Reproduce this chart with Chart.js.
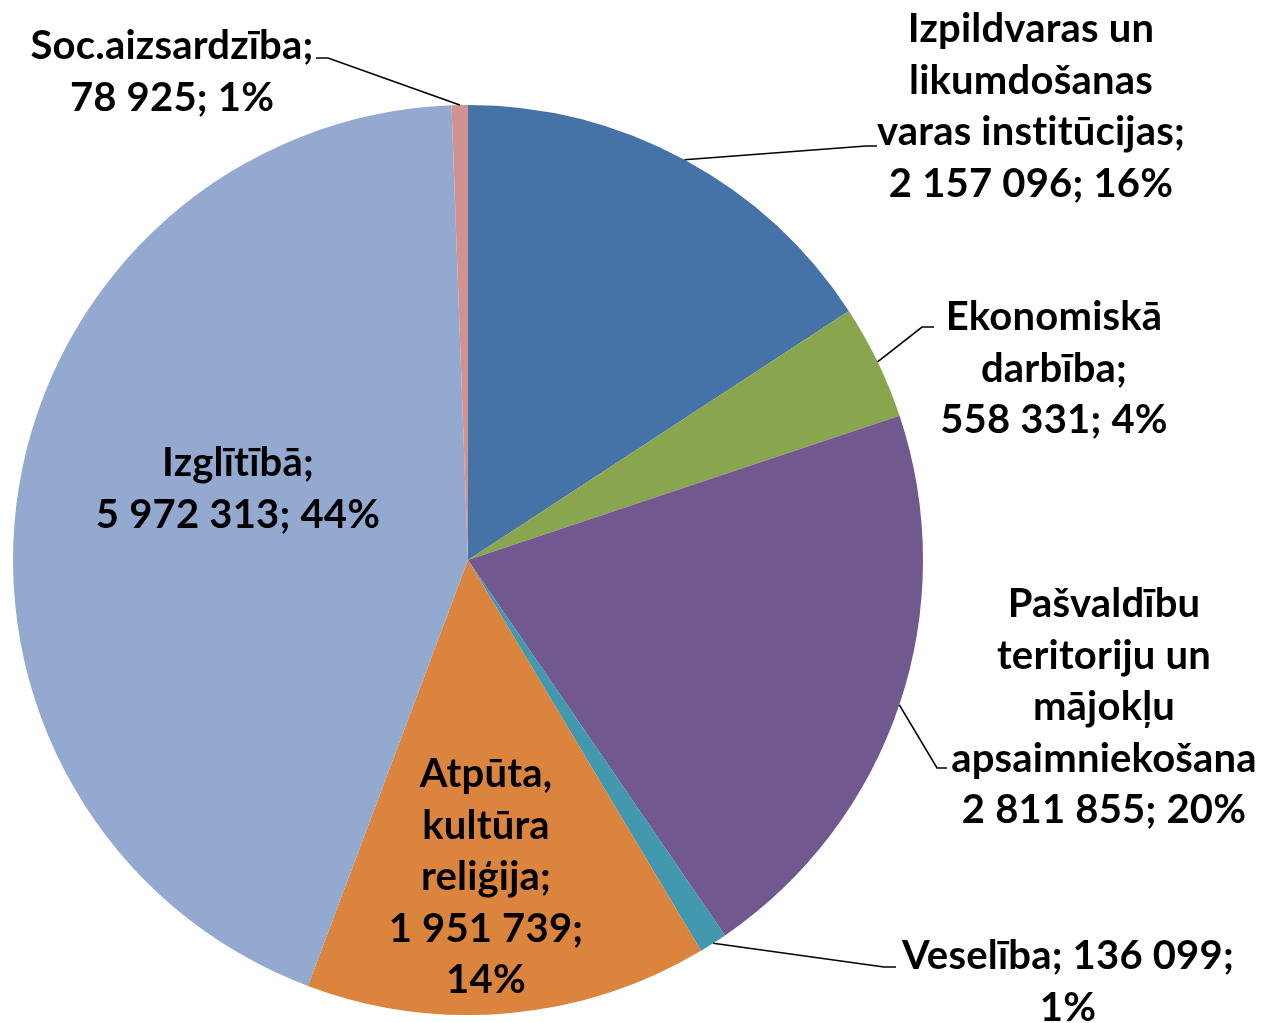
<!DOCTYPE html>
<html>
<head>
<meta charset="utf-8">
<script src="https://cdn.jsdelivr.net/npm/chart.js@4"></script>
<style>
html,body{margin:0;padding:0;background:#fff;}
#c{display:block;}
</style>
</head>
<body>
<canvas id="c" width="1261" height="1023"></canvas>
<script>
// ---- data ----
const categories = [
  'Izpildvaras un likumdošanas varas institūcijas',
  'Ekonomiskā darbība',
  'Pašvaldību teritoriju un mājokļu apsaimniekošana',
  'Veselība',
  'Atpūta, kultūra reliģija',
  'Izglītībā',
  'Soc.aizsardzība'
];
const values = [2157096, 558331, 2811855, 136099, 1951739, 5972313, 78925];
const percents = [16, 4, 20, 1, 14, 44, 1];
const colors = ['#4572A7', '#89A54E', '#71588F', '#4198AF', '#DB843D', '#93A9CF', '#D19392'];
// label text lines; {v} = value, {p} = percent
const labelTemplates = [
  ['Izpildvaras un', 'likumdošanas', 'varas institūcijas;', '{v}; {p}'],
  ['Ekonomiskā', 'darbība;', '{v}; {p}'],
  ['Pašvaldību', 'teritoriju un', 'mājokļu', 'apsaimniekošana', '{v}; {p}'],
  ['Veselība; {v};', '{p}'],
  ['Atpūta,', 'kultūra', 'reliģija;', '{v};', '{p}'],
  ['Izglītībā;', '{v}; {p}'],
  ['Soc.aizsardzība;', '{v}; {p}']
];

// ---- label layout (text placement, not data) ----
const labelLayout = [
  {cx: 1031, y: 42,  elbow: [866, 146], end: [877, 146]},
  {cx: 1054, y: 330, elbow: [922, 327], end: [934, 327]},
  {cx: 1104, y: 617, elbow: [937, 768], end: [947, 768]},
  {cx: 1068, y: 969, elbow: [884, 967], end: [896, 967]},
  {cx: 486,  y: 787, elbow: null, end: null},
  {cx: 238,  y: 476, elbow: null, end: null},
  {cx: 172,  y: 59,  elbow: [328, 58], end: [316, 58]}
];
const LINE_H = 51.5;
const FONT_FAMILY = 'Lato';

function fmt(v) {
  return String(v).replace(/\B(?=(\d{3})+(?!\d))/g, ' ');
}

const labelPlugin = {
  id: 'pieLabels',
  afterDatasetsDraw(chart) {
    const ctx = chart.ctx;
    const meta = chart.getDatasetMeta(0);
    ctx.save();
    ctx.letterSpacing = '0.2px';
    ctx.font = 'bold 100px ' + FONT_FAMILY;
    const w = ctx.measureText('apsaimniekošana').width;
    const size = 100 * 304 / w;
    ctx.font = 'bold ' + size.toFixed(2) + 'px ' + FONT_FAMILY;
    ctx.fillStyle = '#000';
    ctx.textAlign = 'center';
    ctx.textBaseline = 'alphabetic';
    meta.data.forEach((arc, i) => {
      const L = labelLayout[i];
      const v = values[i];
      const p = percents[i] + '%';
      const lines = labelTemplates[i].map(t => t.replace('{v}', fmt(v)).replace('{p}', p));
      if (L.elbow) {
        const mid = (arc.startAngle + arc.endAngle) / 2;
        const sx = arc.x + Math.cos(mid) * arc.outerRadius;
        const sy = arc.y + Math.sin(mid) * arc.outerRadius;
        ctx.beginPath();
        ctx.strokeStyle = '#000';
        ctx.lineWidth = 1.6;
        ctx.moveTo(sx, sy);
        ctx.lineTo(L.elbow[0], L.elbow[1]);
        ctx.lineTo(L.end[0], L.end[1]);
        ctx.stroke();
      }
      lines.forEach((ln, k) => {
        ctx.fillText(ln, L.cx, L.y + k * LINE_H);
      });
    });
    ctx.restore();
  }
};

new Chart(document.getElementById('c'), {
  type: 'pie',
  data: {
    labels: categories,
    datasets: [{
      data: values,
      backgroundColor: colors,
      borderWidth: 0
    }]
  },
  options: {
    responsive: false,
    animation: false,
    layout: {padding: {left: 13, right: 338, top: 105, bottom: 8}},
    plugins: {
      legend: {display: false},
      tooltip: {enabled: false}
    }
  },
  plugins: [labelPlugin]
});
</script>
</body>
</html>
